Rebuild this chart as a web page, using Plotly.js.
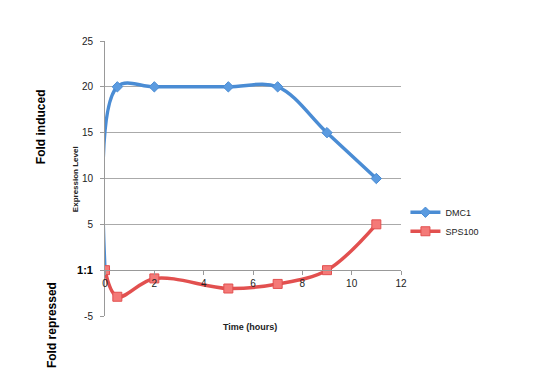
<!DOCTYPE html>
<html>
<head>
<meta charset="utf-8">
<script src="https://cdn.plot.ly/plotly-3.0.1.min.js"></script>
<style>html,body{margin:0;padding:0;background:#fff;}#chart{width:545px;height:382px;}</style>
</head>
<body>
<div id="chart"></div>
<script>
var timeHours = [0, 0.5, 2, 5, 7, 9, 11];
var dmc1 = [0, 20, 20, 20, 20, 15, 10];
var sps100 = [0, -2.9, -0.9, -2, -1.5, 0, 5];
var yTickVals = [-5, 0, 5, 10, 15, 20, 25];
var yTickText = ['-5', '<b><span style="font-size:11px;color:#000">1:1</span></b>', '5', '10', '15', '20', '25'];
var xTickVals = [0, 2, 4, 6, 8, 10, 12];

var traces = [
  {x: timeHours, y: dmc1, name: 'DMC1', type: 'scatter', mode: 'lines+markers',
   line: {color: '#4a8cd4', width: 3.5, shape: 'spline', smoothing: 1},
   marker: {symbol: 'diamond', size: 8, color: '#5b9be0', line: {color: '#4a8cd4', width: 1}}},
  {x: timeHours, y: sps100, name: 'SPS100', type: 'scatter', mode: 'lines+markers',
   line: {color: '#e2504f', width: 3.5, shape: 'spline', smoothing: 1},
   marker: {symbol: 'square', size: 9, color: '#f47a78', line: {color: '#e2504f', width: 1}}}
];

var layout = {
  width: 545, height: 382,
  margin: {l: 105, r: 144, t: 41, b: 66},
  paper_bgcolor: '#fff', plot_bgcolor: '#fff',
  font: {family: 'Liberation Sans, Arial, sans-serif', size: 10, color: '#222'},
  showlegend: true,
  legend: {x: 1.015, y: 0.43, xanchor: 'left', yanchor: 'top', font: {size: 9}, tracegroupgap: 4, itemwidth: 30},
  xaxis: {range: [0, 12], tickvals: xTickVals, showgrid: false, zeroline: false,
          showline: true, linecolor: '#999', linewidth: 1, ticks: 'outside', ticklen: 4, tickcolor: '#999',
          anchor: 'free', position: 1/6, tickfont: {size: 10}},
  yaxis: {range: [-5, 25], tickvals: yTickVals, ticktext: yTickText, showgrid: true, gridcolor: '#aaa',
          zeroline: false, showline: true, linecolor: '#999', linewidth: 1, ticks: 'outside', ticklen: 4,
          tickcolor: '#999', tickfont: {size: 10}, ticklabelstandoff: 5},
  annotations: [
    {text: '<b>Fold induced</b>', xref: 'paper', yref: 'paper', x: -0.216, y: 0.687, xanchor: 'center', yanchor: 'middle', textangle: -90, showarrow: false, font: {size: 12, color: '#000'}},
    {text: '<b>Fold repressed</b>', xref: 'paper', yref: 'paper', x: -0.179, y: -0.033, xanchor: 'center', yanchor: 'middle', textangle: -90, showarrow: false, font: {size: 12, color: '#000'}},
    {text: '<b>Expression Level</b>', xref: 'paper', yref: 'paper', x: -0.101, y: 0.498, xanchor: 'center', yanchor: 'middle', textangle: -90, showarrow: false, font: {size: 8, color: '#222'}},
    {text: '<b>Time (hours)</b>', xref: 'paper', yref: 'paper', x: 0.49, y: -0.04, xanchor: 'center', yanchor: 'middle', showarrow: false, font: {size: 9, color: '#222'}}
  ]
};

Plotly.newPlot('chart', traces, layout, {displayModeBar: false, staticPlot: true});
</script>
</body>
</html>
